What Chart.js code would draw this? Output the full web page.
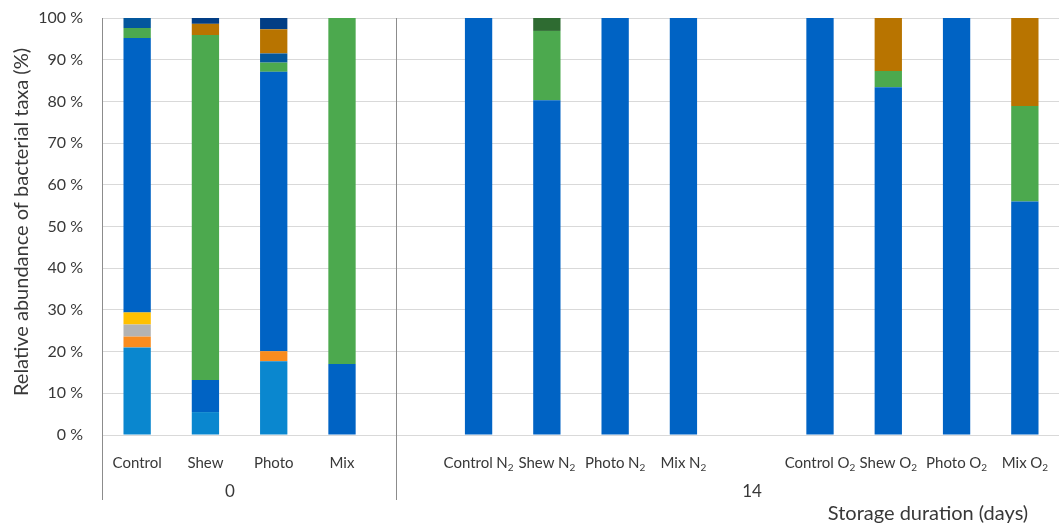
<!DOCTYPE html>
<html>
<head>
<meta charset="utf-8">
<title>Relative abundance of bacterial taxa</title>
<script src="https://cdn.jsdelivr.net/npm/chart.js@4/dist/chart.umd.min.js"></script>
<style>
  html, body { margin: 0; padding: 0; background: #ffffff; }
  #wrap { width: 1059px; height: 526px; position: relative; }
</style>
</head>
<body>
<div id="wrap"><canvas id="chart"></canvas></div>
<script>
// Sample names (empty strings separate the storage-day groups)
const categories = [
  'Control', 'Shew', 'Photo', 'Mix', '',
  'Control N₂', 'Shew N₂', 'Photo N₂', 'Mix N₂', '',
  'Control O₂', 'Shew O₂', 'Photo O₂', 'Mix O₂'
];

// Storage duration group labels (days)
const groupLabels = ['0', '14'];

// Relative abundance (%) of each taxon, stacked bottom to top
const taxonA = [21.0, 5.5, 17.7, 0, null, 0, 0, 0, 0, null, 0, 0, 0, 0];
const taxonB = [2.6, 0, 2.4, 0, null, 0, 0, 0, 0, null, 0, 0, 0, 0];
const taxonC = [2.9, 0, 0, 0, null, 0, 0, 0, 0, null, 0, 0, 0, 0];
const taxonD = [2.9, 0, 0, 0, null, 0, 0, 0, 0, null, 0, 0, 0, 0];
const taxonE = [65.8, 7.7, 67.0, 17.0, null, 100, 80.3, 100, 100, null, 100, 83.4, 100, 56.0];
const taxonF = [2.4, 82.7, 2.2, 83.0, null, 0, 16.6, 0, 0, null, 0, 3.9, 0, 22.9];
const taxonG = [0, 0, 0, 0, null, 0, 3.1, 0, 0, null, 0, 0, 0, 0];
const taxonH = [2.4, 0, 2.2, 0, null, 0, 0, 0, 0, null, 0, 0, 0, 0];
const taxonI = [0, 2.7, 5.8, 0, null, 0, 0, 0, 0, null, 0, 12.7, 0, 21.1];
const taxonJ = [0, 1.4, 2.7, 0, null, 0, 0, 0, 0, null, 0, 0, 0, 0];

const yTicks = [0, 10, 20, 30, 40, 50, 60, 70, 80, 90, 100];

const seriesList = [
  { values: taxonA, color: '#0A87CF' },
  { values: taxonB, color: '#F98C1F' },
  { values: taxonC, color: '#B3B3B3' },
  { values: taxonD, color: '#FFC000' },
  { values: taxonE, color: '#0063C4' },
  { values: taxonF, color: '#4CA94E' },
  { values: taxonG, color: '#2E6B31' },
  { values: taxonH, color: '#03579D' },
  { values: taxonI, color: '#B87400' },
  { values: taxonJ, color: '#023E85' }
];

const FONT = 'Lato, "Open Sans", "DejaVu Sans", sans-serif';
const TEXT = '#383838';

// Draws a label with tight word spacing, turning "₂" into a lowered, smaller "2"
function drawSubLabel(ctx, text, cx, cy, size) {
  const parts = [];
  let buf = '';
  const flush = () => { if (buf) parts.push({ t: buf, kind: 'text' }); buf = ''; };
  for (const ch of text) {
    if (ch === '₂') { flush(); parts.push({ t: '2', kind: 'sub' }); }
    else if (ch === ' ') { flush(); parts.push({ t: '', kind: 'gap' }); }
    else buf += ch;
  }
  flush();
  const subSize = Math.round(size * 0.68);
  let total = 0;
  parts.forEach(p => {
    if (p.kind === 'gap') { p.w = size * 0.24; }
    else {
      ctx.font = (p.kind === 'sub' ? subSize : size) + 'px ' + FONT;
      p.w = ctx.measureText(p.t).width;
    }
    total += p.w;
  });
  let x = cx - total / 2;
  ctx.textAlign = 'left';
  ctx.textBaseline = 'middle';
  parts.forEach(p => {
    if (p.kind !== 'gap') {
      ctx.font = (p.kind === 'sub' ? subSize : size) + 'px ' + FONT;
      ctx.fillText(p.t, x, p.kind === 'sub' ? cy + size * 0.3 : cy);
    }
    x += p.w;
  });
}

const decorations = {
  id: 'decorations',
  afterDraw(chart) {
    const { ctx, chartArea, scales } = chart;
    const xs = scales.x;
    ctx.save();

    // vertical axis line and group separator running down through the label rows
    ctx.strokeStyle = '#8C8C8C';
    ctx.lineWidth = 1;
    const sepX = (xs.getPixelForValue(3) + xs.getPixelForValue(5)) / 2 - 14;
    [chartArea.left - 0.5, Math.round(sepX) + 0.5].forEach(x => {
      ctx.beginPath();
      ctx.moveTo(x, chartArea.top);
      ctx.lineTo(x, 500);
      ctx.stroke();
    });

    // sample labels
    ctx.fillStyle = TEXT;
    categories.forEach((lab, i) => {
      if (!lab) return;
      drawSubLabel(ctx, lab, xs.getPixelForValue(i), 463, 15);
    });

    // storage-day group labels
    ctx.font = '17px ' + FONT;
    ctx.textAlign = 'center';
    ctx.textBaseline = 'middle';
    ctx.fillText(groupLabels[0], 230, 492);
    ctx.fillText(groupLabels[1], 752, 492);

    // axis titles
    ctx.font = '20px ' + FONT;
    ctx.fillText('Storage duration (days)', 928, 514);
    ctx.translate(22, 222);
    ctx.rotate(-Math.PI / 2);
    ctx.fillText('Relative abundance of bacterial taxa (%)', 0, 0);
    ctx.restore();
  }
};

new Chart(document.getElementById('chart'), {
  type: 'bar',
  data: {
    labels: categories,
    datasets: seriesList.map(s => ({
      data: s.values,
      backgroundColor: s.color,
      borderWidth: 0,
      barPercentage: 0.4,
      categoryPercentage: 1.0
    }))
  },
  options: {
    responsive: true,
    maintainAspectRatio: false,
    animation: false,
    layout: { padding: { top: 18, right: 0, bottom: 0, left: 0 } },
    plugins: { legend: { display: false }, tooltip: { enabled: false } },
    scales: {
      x: {
        stacked: true,
        grid: { display: false, drawTicks: false },
        border: { display: false },
        ticks: { display: false },
        afterFit(scale) { scale.height = 91; scale.paddingLeft = 0; scale.paddingRight = 0; }
      },
      y: {
        stacked: true,
        min: 0,
        max: 100,
        afterBuildTicks(scale) { scale.ticks = yTicks.map(v => ({ value: v })); },
        grid: { color: '#D9D9D9', lineWidth: 1, drawTicks: false },
        border: { display: false },
        ticks: {
          padding: 20,
          color: TEXT,
          font: { family: FONT, size: 16 },
          callback: v => v + ' %'
        },
        afterFit(scale) { scale.width = 103; scale.paddingTop = 0; scale.paddingBottom = 0; }
      }
    }
  },
  plugins: [decorations]
});
</script>
</body>
</html>
